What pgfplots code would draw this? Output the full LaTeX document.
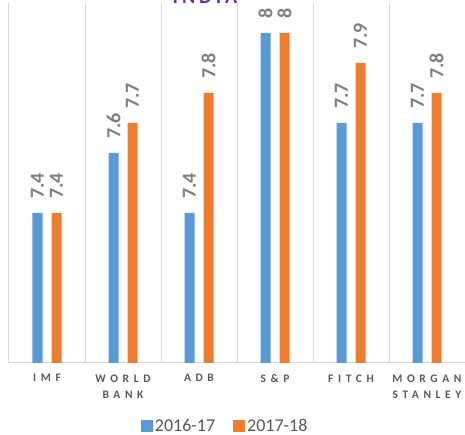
\documentclass[border=0pt]{standalone}
\usepackage{fontspec}
\setmainfont{Carlito}
\usepackage{pgfplots}
\pgfplotsset{compat=1.18}
\definecolor{cblue}{HTML}{5B9BD5}
\definecolor{corange}{HTML}{ED7D31}
\definecolor{gridgray}{HTML}{D9D9D9}
\definecolor{labgray}{HTML}{7F7F7F}
\definecolor{txtgray}{HTML}{595959}
\definecolor{titlepurple}{HTML}{7030A0}

\begin{document}
\begin{tikzpicture}
\useasboundingbox (0,0) rectangle (465pt,435pt);
\begin{axis}[
  at={(9pt,72pt)}, anchor=south west,
  scale only axis, width=456pt, height=360pt,
  xmin=-0.5, xmax=5.5, ymin=6.9, ymax=8.1,
  ybar, bar width=10pt,
  axis x line=bottom, axis y line=none,
  x axis line style={draw=gridgray, line width=1pt, -},
  xtick={0,1,2,3,4,5},
  xticklabels={IMF,{WORLD\\BANK},ADB,S\&P,FITCH,{MORGAN\\STANLEY}},
  major tick length=0pt,
  minor xtick={-0.5,0.5,1.5,2.5,3.5,4.5,5.5}, minor tick length=0pt,
  xminorgrids, minor grid style={draw=gridgray, line width=1pt},
  xticklabel style={align=center, text=txtgray, yshift=-8pt,
    font=\bfseries\fontsize{11.5}{16}\selectfont\addfontfeatures{LetterSpace=40}},
  nodes near coords, point meta=explicit symbolic,
  nodes near coords align={anchor=west},
  every node near coord/.append style={rotate=90, anchor=west, inner xsep=14pt,
    text=labgray, font=\bfseries\fontsize{20}{24}\selectfont},
  legend columns=2,
  legend style={at={(0.474,-0.175)}, anchor=center, draw=none,
    font=\fontsize{18}{20}\selectfont, text=txtgray,
    /tikz/every even column/.append style={column sep=16pt}},
  legend image code/.code={\fill[#1] (0pt,-6pt) rectangle (12pt,6pt);},
]
\addplot[fill=cblue, draw=none, bar shift=-9.5pt] coordinates {
  (0,7.4) [7.4]
  (1,7.6) [7.6]
  (2,7.4) [7.4]
  (3,8.0) [8]
  (4,7.7) [7.7]
  (5,7.7) [7.7]
};
\addlegendentry{2016-17}
\addplot[fill=corange, draw=none, bar shift=9.5pt] coordinates {
  (0,7.4) [7.4]
  (1,7.7) [7.7]
  (2,7.8) [7.8]
  (3,8.0) [8]
  (4,7.9) [7.9]
  (5,7.8) [7.8]
};
\addlegendentry{2017-18}
\end{axis}
\node[anchor=base, text=titlepurple, font=\bfseries\fontsize{20}{24}\selectfont\addfontfeatures{LetterSpace=20}] at (205pt,431pt) {INDIA};
\end{tikzpicture}
\end{document}
